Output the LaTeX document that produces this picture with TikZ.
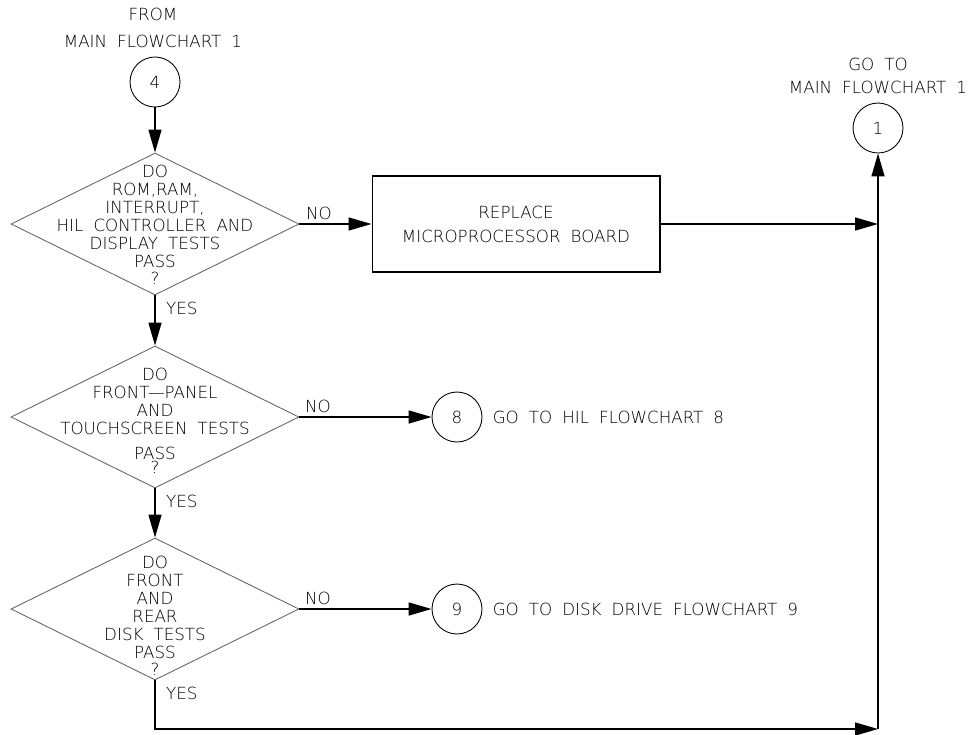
\documentclass[tikz,border=0pt]{standalone}
\usepackage{fontspec}
\setmainfont{DejaVu Sans ExtraLight}[WordSpace=1.9]
\usepackage{tikz}
\usetikzlibrary{arrows.meta,positioning,shapes.geometric}
\newcommand{\chartfont}{\fontsize{9.5}{10.2}\selectfont}
\tikzset{
  decision/.style={diamond,draw=black!60,line width=0.5pt,minimum width=5.76cm,
    minimum height=2.84cm,inner sep=0pt},
  actionbox/.style={draw,line width=0.6pt,minimum width=5.76cm,minimum height=1.92cm,
    align=center,font=\chartfont},
  connector/.style={circle,draw,line width=0.5pt,minimum size=1cm,inner sep=0pt,font=\chartfont},
  questiontext/.style={align=center,font=\chartfont,inner sep=0pt},
  notetext/.style={align=center,font=\chartfont,inner sep=0pt},
  edgelabel/.style={font=\chartfont,inner sep=2pt},
  flowarrow/.style={-{Triangle[length=4.6mm,width=2.6mm]},line width=0.8pt},
  flowline/.style={line width=0.8pt}
}

\begin{document}
\begin{tikzpicture}[x=0.02cm,y=-0.02cm]
  \useasboundingbox (0,0) rectangle (976,734);

  % entry and exit connectors
  \node[connector] (c4) at (155,82) {4};
  \node[notetext] (fromnote) at (153,28) {FROM\\[5pt]MAIN FLOWCHART 1};
  \node[connector] (c1) at (878,128) {1};
  \node[notetext] (gotonote) at (878,76) {GO TO\\[2.8pt]MAIN FLOWCHART 1};

  % decisions
  \node[decision] (q1) at (155,224) {};
  \node[questiontext] (q1text) at (155,225)
    {DO\\ROM,RAM,\\INTERRUPT,\\HIL CONTROLLER AND\\DISPLAY TESTS\\PASS\\?};
  \node[decision] (q2) at (155,417) {};
  \node[questiontext] (q2text) at (155,421)
    {DO\\FRONT---PANEL\\AND\\TOUCHSCREEN TESTS\\[4pt]PASS\\[-2pt]?};
  \node[decision] (q3) at (155,609) {};
  \node[questiontext] (q3text) at (155,616)
    {DO\\FRONT\\AND\\REAR\\DISK TESTS\\PASS\\?};

  % actions and off-page connectors
  \node[actionbox] (fix) at (516,224) {REPLACE\\[3.4pt]MICROPROCESSOR BOARD};
  \node[connector] (c8) at (457,417) {8};
  \node[notetext,right=0.2cm of c8] (hilnote) {GO TO HIL FLOWCHART 8};
  \node[connector] (c9) at (457,609) {9};
  \node[notetext,right=0.2cm of c9] (disknote) {GO TO DISK DRIVE FLOWCHART 9};
  \coordinate (join) at (878,729);

  % connectors
  \draw[flowarrow] (c4) -- (q1.north);
  \draw[flowarrow] (q1.east) -- node[edgelabel,pos=0.27,above] {NO} (fix.west);
  \draw[flowarrow] (fix.east) -- (fix.east -| c1);
  \draw[flowarrow] (q1.south) -- node[edgelabel,pos=0.26,right=4pt] {YES} (q2.north);
  \draw[flowarrow] (q2.east) -- node[edgelabel,pos=0.14,above] {NO} (c8);
  \draw[flowarrow] (q2.south) -- node[edgelabel,pos=0.26,right=4pt] {YES} (q3.north);
  \draw[flowarrow] (q3.east) -- node[edgelabel,pos=0.14,above] {NO} (c9);
  \draw[flowarrow] (q3.south) |- node[edgelabel,pos=0.13,right=4pt] {YES} (join);
  \draw[flowarrow] (join) -- (c1.south);
\end{tikzpicture}
\end{document}
